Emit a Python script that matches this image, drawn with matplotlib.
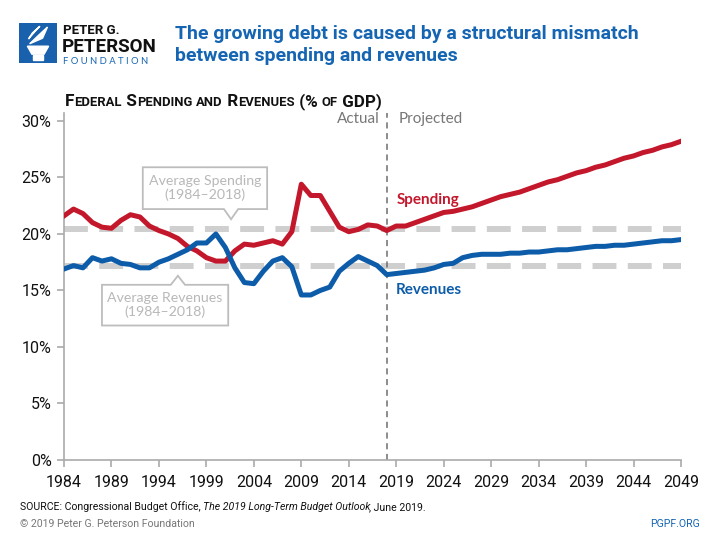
import matplotlib
matplotlib.use("Agg")
import matplotlib.pyplot as plt
from matplotlib.patches import Polygon, Rectangle
import numpy as np

years = np.arange(1984, 2050)
spending = [
    21.6, 22.2, 21.8, 21.0, 20.6, 20.5, 21.2, 21.7, 21.5, 20.7,
    20.3, 20.0, 19.6, 18.9, 18.5, 17.9, 17.6, 17.6, 18.5, 19.1,
    19.0, 19.2, 19.4, 19.1, 20.2, 24.4, 23.4, 23.4, 22.0, 20.6,
    20.2, 20.4, 20.8, 20.7, 20.3,
    20.7, 20.7, 21.0, 21.3, 21.6, 21.9, 22.0, 22.2, 22.4, 22.7,
    23.0, 23.3, 23.5, 23.7, 24.0, 24.3, 24.6, 24.8, 25.1, 25.4,
    25.6, 25.9, 26.1, 26.4, 26.7, 26.9, 27.2, 27.4, 27.7, 27.9, 28.2,
]
revenues = [
    16.9, 17.2, 17.0, 17.9, 17.6, 17.8, 17.4, 17.3, 17.0, 17.0,
    17.5, 17.8, 18.2, 18.6, 19.2, 19.2, 20.0, 18.8, 17.0, 15.7,
    15.6, 16.7, 17.6, 17.9, 17.1, 14.6, 14.6, 15.0, 15.3, 16.7,
    17.4, 18.0, 17.6, 17.2, 16.4,
    16.5, 16.6, 16.7, 16.8, 17.0, 17.3, 17.4, 17.9, 18.1, 18.2,
    18.2, 18.2, 18.3, 18.3, 18.4, 18.4, 18.5, 18.6, 18.6, 18.7,
    18.8, 18.9, 18.9, 19.0, 19.0, 19.1, 19.2, 19.3, 19.4, 19.4, 19.5,
]
avg_spending = 20.4
avg_revenues = 17.2
split_year = 2018
xticks = np.arange(1984, 2050, 5)
yticks = [0, 5, 10, 15, 20, 25, 30]

RED = "#c3172c"
BLUE = "#0d5ca9"
TITLE_BLUE = "#1565b3"
AVG_GRAY = "#cfcfcf"
BOX_GRAY = "#bdbdbd"
COND = ["Roboto", "DejaVu Sans"]
SOFT = ["Lato", "DejaVu Sans"]

fig = plt.figure(figsize=(7.2, 5.4), dpi=100)
ax = fig.add_axes([64 / 720, 80 / 540, 617 / 720, (460 - 113) / 540])

ax.plot(years, [avg_spending] * len(years), color=AVG_GRAY, lw=4.3,
        dashes=(4, 1.9), solid_capstyle="butt", zorder=1)
ax.plot(years, [avg_revenues] * len(years), color=AVG_GRAY, lw=4.3,
        dashes=(4, 1.9), solid_capstyle="butt", zorder=1)
ax.plot(years, spending, color=RED, lw=3.6, zorder=3, solid_joinstyle="round")
ax.plot(years, revenues, color=BLUE, lw=3.6, zorder=3, solid_joinstyle="round")
ax.axvline(split_year, color="#6e6e6e", lw=1.1, dashes=(4, 3), zorder=2)

ax.set_xlim(1984, 2049)
ax.set_ylim(0, 30.7)
ax.set_xticks(xticks)
ax.set_xticklabels([str(y) for y in xticks], family=COND, fontsize=11.5)
ax.set_yticks(yticks)
ax.set_yticklabels([f"{v}%" for v in yticks], family=COND, fontsize=11.5)
for s in ["top", "right"]:
    ax.spines[s].set_visible(False)
for s in ["left", "bottom"]:
    ax.spines[s].set_color("#aaaaaa")
    ax.spines[s].set_linewidth(1.2)
ax.tick_params(axis="both", colors="#aaaaaa", labelcolor="#111111",
               length=5, width=1.2, pad=6)
ax.tick_params(axis="y", pad=4)

# Actual / Projected labels
ax.text(split_year - 0.7, 30.2, "Actual", ha="right", va="center",
        color="#777777", fontsize=11, family=SOFT)
ax.text(split_year + 1.3, 30.2, "Projected", ha="left", va="center",
        color="#777777", fontsize=11, family=SOFT)

# Series labels
ax.text(2019.0, 23.0, "Spending", color=RED, fontsize=11, fontweight="bold",
        family=SOFT, va="center")
ax.text(2019.0, 15.0, "Revenues", color=BLUE, fontsize=11, fontweight="bold",
        family=SOFT, va="center")

# Average call-out boxes with a notch pointer
def callout(x0, x1, y0, y1, px, tip, half, down, text):
    if down:
        pts = [(x0, y1), (x1, y1), (x1, y0), (px + half, y0), (px, tip),
               (px - half, y0), (x0, y0)]
    else:
        pts = [(x0, y0), (x1, y0), (x1, y1), (px + half, y1), (px, tip),
               (px - half, y1), (x0, y1)]
    ax.add_patch(Polygon(pts, closed=True, facecolor="white",
                         edgecolor=BOX_GRAY, lw=1.3, zorder=4))
    ax.text((x0 + x1) / 2, (y0 + y1) / 2, text, ha="center", va="center",
            color="#b8b8b8", fontsize=10.2, linespacing=1.2,
            family=SOFT, zorder=5)

callout(1992.3, 2005.4, 22.2, 25.9, 2001.6, 21.3, 0.75, True,
        "Average Spending\n(1984\u20132018)")
callout(1988.0, 2001.3, 11.9, 15.5, 1996.0, 16.3, 0.75, False,
        "Average Revenues\n(1984\u20132018)")

# Title
fig.text(175 / 720, 1 - 45 / 540, "The growing debt is caused by a structural mismatch\n"
         "between spending and revenues", color=TITLE_BLUE, fontsize=14,
         fontweight="bold", family=COND, va="center", ha="left", linespacing=1.35)

# Small caps subtitle
def small_caps(x, y, text, big, small, **kw):
    renderer = fig.canvas.get_renderer()
    runs = []
    for ch in text:
        is_low = ch.islower()
        if runs and runs[-1][1] == is_low:
            runs[-1][0] += ch
        else:
            runs.append([ch, is_low])
    xpix = x * fig.bbox.width
    for s, is_low in runs:
        t = fig.text(xpix / fig.bbox.width, y, s.upper(),
                     fontsize=small if is_low else big, va="baseline", **kw)
        xpix += t.get_window_extent(renderer).width

small_caps(65 / 720, 1 - 106 / 540, "Federal Spending and Revenues (% of GDP)",
           12.3, 9.4, color="#111111", fontweight="bold", family=COND)

# Logo
lax = fig.add_axes([19 / 720, 1 - 63 / 540, 38 / 720, 40 / 540])
lax.set_xlim(0, 1)
lax.set_ylim(0, 1)
lax.axis("off")
lax.add_patch(Rectangle((0, 0), 1, 1, color="#1960ad"))
lax.add_patch(Polygon([(0.22, 0.42), (0.78, 0.42), (0.66, 0.22), (0.34, 0.22)],
                      color="white"))
lax.add_patch(Rectangle((0.38, 0.08), 0.24, 0.12, color="white"))
lax.add_patch(Polygon([(0.28, 0.48), (0.62, 0.62), (0.75, 0.9), (0.5, 0.68)],
                      color="white"))
lax.add_patch(Polygon([(0.25, 0.6), (0.45, 0.82), (0.55, 0.92), (0.35, 0.75)],
                      color="white"))
fig.text(63 / 720, 1 - 31 / 540, "PETER G.", fontsize=9.5, fontweight="bold",
         family=COND, va="center", color="#111111")
fig.text(62 / 720, 1 - 47 / 540, "PETERSON", fontsize=13.5, fontweight="bold",
         family=COND, va="center", color="#111111")
fig.text(63 / 720, 1 - 61 / 540, "F O U N D A T I O N", fontsize=6.8,
         family=SOFT, va="center", color=TITLE_BLUE)

# Footer
renderer = fig.canvas.get_renderer()
src = fig.text(20 / 720, 1 - 507 / 540, "SOURCE: Congressional Budget Office, ",
               fontsize=7.6, family=COND, va="center", color="#111111")
x1 = src.get_window_extent(renderer).x1
it = fig.text(x1 / 720, 1 - 507 / 540, "The 2019 Long-Term Budget Outlook",
              fontsize=7.6, family=COND, style="italic", va="center",
              color="#111111")
x2 = it.get_window_extent(renderer).x1 - 2
fig.text(x2 / 720, 1 - 507 / 540, ", June 2019.", fontsize=7.6, family=COND,
         va="center", color="#111111")
fig.text(20 / 720, 1 - 524 / 540, "\u00a9 2019 Peter G. Peterson Foundation",
         fontsize=7.6, family=COND, va="center", color="#777777")
fig.text(700 / 720, 1 - 524 / 540, "PGPF.ORG", fontsize=7.6, family=COND,
         va="center", ha="right", color=TITLE_BLUE)

fig.savefig("out.png", dpi=100)
